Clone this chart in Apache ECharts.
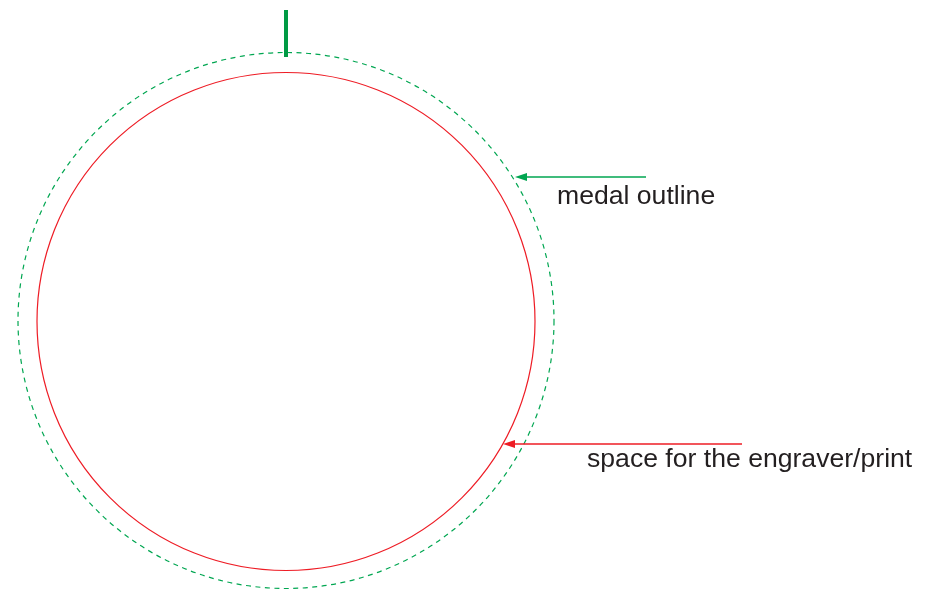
<!DOCTYPE html>
<html>
<head>
<meta charset="utf-8">
<script src="https://cdn.jsdelivr.net/npm/echarts@6/dist/echarts.min.js"></script>
<style>
html,body{margin:0;padding:0;background:#fff;}
#chart{width:929px;height:593px;}
</style>
</head>
<body>
<div id="chart"></div>
<script>
// Diagram data (units of the drawing plane)
const circleNames   = ['medal outline', 'space for the engraver/print'];
const circleCenterX = [286, 286];
const circleCenterY = [320.5, 321.5];
const circleRadius  = [268, 249];

const arrowFromX = [646, 742];
const arrowFromY = [177, 444];
const arrowToX   = [515, 503];
const arrowToY   = [177, 444];

const labelTexts = ['medal outline', 'space for the engraver/print'];
const labelX     = [557, 587];
const labelY     = [197, 460];

const markerX    = [286];
const markerTopY = [10];
const markerBotY = [57];

const GREEN = '#00a651';
const RED = '#ee1c25';

const chart = echarts.init(document.getElementById('chart'), null, {renderer: 'canvas'});

const circleData = circleNames.map((n, i) => ({name: n, value: [circleCenterX[i], circleCenterY[i], circleRadius[i], i]}));
const arrowData = arrowFromX.map((x, i) => [x, arrowFromY[i], arrowToX[i], arrowToY[i], i]);
const labelData = labelTexts.map((t, i) => ({name: t, value: [labelX[i], labelY[i]]}));
const markerData = markerX.map((x, i) => [x, markerTopY[i], markerBotY[i]]);

const colors = [GREEN, RED];

chart.setOption({
  animation: false,
  backgroundColor: '#ffffff',
  grid: {left: 0, right: 0, top: 0, bottom: 0},
  xAxis: {type: 'value', min: 0, max: 929, show: false},
  yAxis: {type: 'value', min: 0, max: 593, inverse: true, show: false},
  series: [
    {
      type: 'custom',
      name: 'circles',
      clip: false,
      data: circleData,
      encode: {x: 0, y: 1},
      renderItem: function (params, api) {
        const c = api.coord([api.value(0), api.value(1)]);
        const r = api.size([api.value(2), 0])[0];
        const idx = api.value(3);
        return {
          type: 'circle',
          shape: {cx: c[0], cy: c[1], r: r},
          style: {
            fill: 'none',
            stroke: colors[idx],
            lineWidth: 1.2,
            lineDash: idx === 0 ? [5, 4.5] : null
          }
        };
      }
    },
    {
      type: 'custom',
      name: 'arrows',
      clip: false,
      data: arrowData,
      encode: {x: [0, 2], y: [1, 3]},
      renderItem: function (params, api) {
        const a = api.coord([api.value(0), api.value(1)]);
        const b = api.coord([api.value(2), api.value(3)]);
        const idx = api.value(4);
        const col = colors[idx];
        const dx = b[0] - a[0], dy = b[1] - a[1];
        const len = Math.sqrt(dx * dx + dy * dy);
        const ux = dx / len, uy = dy / len;
        const hl = 12, hw = 4;
        const base = [b[0] - ux * hl, b[1] - uy * hl];
        return {
          type: 'group',
          children: [
            {
              type: 'line',
              shape: {x1: a[0], y1: a[1], x2: base[0], y2: base[1]},
              style: {stroke: col, lineWidth: 1.6}
            },
            {
              type: 'polygon',
              shape: {points: [
                [b[0], b[1]],
                [base[0] - uy * hw, base[1] + ux * hw],
                [base[0] + uy * hw, base[1] - ux * hw]
              ]},
              style: {fill: col}
            }
          ]
        };
      }
    },
    {
      type: 'custom',
      name: 'marker',
      clip: false,
      data: markerData,
      encode: {x: 0, y: [1, 2]},
      renderItem: function (params, api) {
        const a = api.coord([api.value(0), api.value(1)]);
        const b = api.coord([api.value(0), api.value(2)]);
        return {
          type: 'line',
          shape: {x1: a[0], y1: a[1], x2: b[0], y2: b[1]},
          style: {stroke: '#009a44', lineWidth: 4}
        };
      }
    },
    {
      type: 'custom',
      name: 'labels',
      clip: false,
      data: labelData,
      encode: {x: 0, y: 1},
      renderItem: function (params, api) {
        const p = api.coord([api.value(0), api.value(1)]);
        return {
          type: 'text',
          x: p[0],
          y: p[1],
          style: {
            text: labelTexts[params.dataIndex],
            fill: '#231f20',
            font: '26.6px "Liberation Sans", Arial, sans-serif',
            align: 'left',
            verticalAlign: 'middle'
          }
        };
      }
    }
  ]
});
</script>
</body>
</html>
